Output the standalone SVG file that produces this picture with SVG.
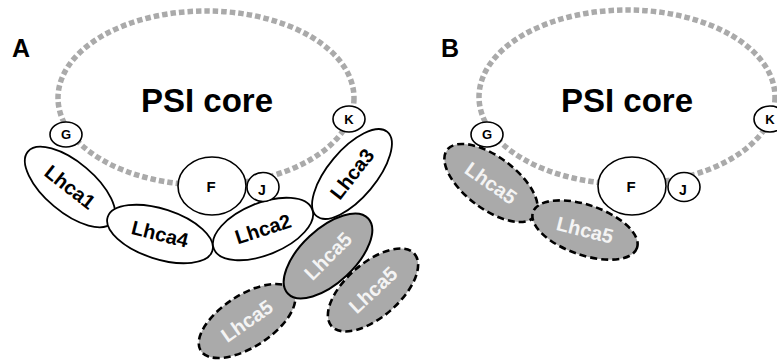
<svg xmlns="http://www.w3.org/2000/svg" width="777" height="360" viewBox="0 0 777 360">
<style>
text{font-family:"Liberation Sans",Arial,sans-serif;font-weight:bold;text-anchor:middle}
.core{fill:none;stroke:#aaaaaa;stroke-width:5.5;stroke-dasharray:5.5 3}
.sub{fill:#fff;stroke:#000;stroke-width:1.6}
.lh{fill:#fff;stroke:#000;stroke-width:1.8}
.g5{fill:#aaaaaa;stroke:#000;stroke-width:2}
.g5d{fill:#aaaaaa;stroke:#000;stroke-width:2.6;stroke-dasharray:7 4}
.lbl{font-size:20px;fill:#000}
.wl{font-size:20px;fill:#f4f4f4}
.st{font-size:13px;fill:#000}
.sf{font-size:15px;fill:#000}
.sj{font-size:14px;fill:#000}
.big{font-size:33px;fill:#000}
.pl{font-size:25px;fill:#000;text-anchor:start}
</style>
<rect width="777" height="360" fill="#fff"/>
<text class="pl" x="12" y="57">A</text>
<text class="pl" x="441" y="57">B</text>
<g id="panelA">
<g id="coreA"><ellipse class="core" cx="206" cy="98" rx="148" ry="87"/><text class="big" x="207" y="112">PSI core</text></g>
<g id="Lhca5c"><ellipse class="g5d" cx="247" cy="321" rx="55" ry="26" transform="rotate(-33 247 321)"/><text class="wl" transform="translate(247 321) rotate(-35)" dy="0.35em">Lhca5</text></g>
<g id="Lhca5b"><ellipse class="g5d" cx="373" cy="290" rx="55" ry="27" transform="rotate(-41 373 290)"/><text class="wl" transform="translate(373 290) rotate(-43)" dy="0.35em">Lhca5</text></g>
<g id="Lhca5a"><ellipse class="g5" cx="328" cy="256" rx="55" ry="27" transform="rotate(-43 328 256)"/><text class="wl" transform="translate(328 256) rotate(-45)" dy="0.35em">Lhca5</text></g>
<g id="Lhca1"><ellipse class="lh" cx="70" cy="187" rx="55" ry="25" transform="rotate(40 70 187)"/><text class="lbl" transform="translate(70 187) rotate(38)" dy="0.35em">Lhca1</text></g>
<g id="Lhca4"><ellipse class="lh" cx="160" cy="234" rx="55" ry="25" transform="rotate(18 160 234)"/><text class="lbl" transform="translate(160 234) rotate(14)" dy="0.35em">Lhca4</text></g>
<g id="Lhca2"><ellipse class="lh" cx="263" cy="229" rx="53" ry="26" transform="rotate(-22 263 229)"/><text class="lbl" transform="translate(263 229) rotate(-18)" dy="0.35em">Lhca2</text></g>
<g id="Lhca3"><ellipse class="lh" cx="352" cy="174" rx="55" ry="24" transform="rotate(-50 352 174)"/><text class="lbl" transform="translate(352 174) rotate(-52)" dy="0.35em">Lhca3</text></g>
<g id="FA"><ellipse class="sub" cx="212" cy="186" rx="34" ry="29"/><text class="sf" x="211" y="191.5">F</text></g>
<g id="JA"><ellipse class="sub" cx="263" cy="187" rx="16" ry="14.5"/><text class="sj" x="262" y="195">J</text></g>
<g id="GA"><ellipse class="sub" cx="66" cy="134.5" rx="16" ry="12.5"/><text class="st" x="66" y="139">G</text></g>
<g id="KA"><ellipse class="sub" cx="349" cy="119" rx="16" ry="13"/><text class="st" x="349" y="124">K</text></g>
</g>
<g id="panelB">
<g id="coreB"><ellipse class="core" cx="627" cy="97" rx="148" ry="87"/><text class="big" x="627" y="112">PSI core</text></g>
<g id="Lhca5B1"><ellipse class="g5d" cx="491" cy="183" rx="55" ry="26" transform="rotate(37 491 183)"/><text class="wl" transform="translate(491 183) rotate(35)" dy="0.35em">Lhca5</text></g>
<g id="Lhca5B2"><ellipse class="g5d" cx="585" cy="230" rx="55" ry="25" transform="rotate(19 585 230)"/><text class="wl" transform="translate(585 230) rotate(14)" dy="0.35em">Lhca5</text></g>
<g id="FB"><ellipse class="sub" cx="632" cy="186" rx="34" ry="29"/><text class="sf" x="631" y="191.5">F</text></g>
<g id="JB"><ellipse class="sub" cx="684" cy="187" rx="16" ry="14.5"/><text class="sj" x="683" y="195">J</text></g>
<g id="GB"><ellipse class="sub" cx="487" cy="134.5" rx="16" ry="12.5"/><text class="st" x="487" y="139">G</text></g>
<g id="KB"><ellipse class="sub" cx="770" cy="119" rx="16" ry="13"/><text class="st" x="770" y="124">K</text></g>
</g>
<g id="connectors"/>
</svg>
